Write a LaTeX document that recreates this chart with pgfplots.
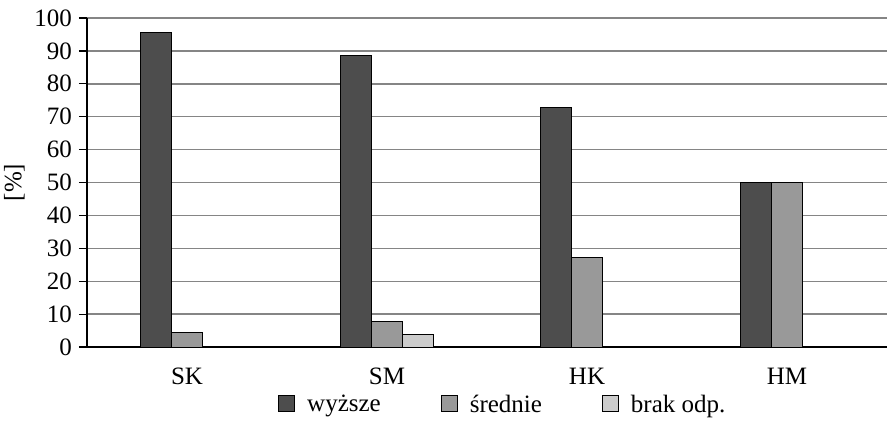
\documentclass[border=0pt]{standalone}
\usepackage{fontspec}
\setmainfont{Liberation Serif}
\usepackage{pgfplots}
\pgfplotsset{compat=1.18}
\usetikzlibrary{calc}
\definecolor{cdark}{HTML}{4D4D4D}
\definecolor{cmid}{HTML}{999999}
\definecolor{clight}{HTML}{CCCCCC}
\definecolor{cgrid}{HTML}{858585}
\begin{document}
\begin{tikzpicture}
\begin{axis}[
  scale only axis, width=400pt, height=164.5pt,
  xmin=-0.5, xmax=3.5, ymin=0, ymax=100,
  ybar=0pt, bar width=15.5pt,
  axis x line*=bottom, axis y line*=left,
  axis line style={black, line width=0.6pt, -},
  xtick={0,1,2,3}, xticklabels={SK,SM,HK,HM},
  x tick style={draw=none},
  extra x ticks={-0.5}, extra x tick labels={},
  extra x tick style={grid=none, tick style={draw=black, line width=0.6pt}, major tick length=4pt, tick align=outside},
  ytick={0,10,...,100},
  y tick style={black, line width=0.6pt},
  tick align=outside, major tick length=4pt,
  ymajorgrids, grid style={cgrid, line width=0.7pt},
  ticklabel style={font=\fontsize{12.5}{14}\selectfont},
  /pgf/number format/assume math mode=true,
  xticklabel style={yshift=-3pt},
  ylabel={[\%]}, ylabel style={font=\fontsize{12.5}{14}\selectfont, yshift=-2pt},
  legend style={draw=none, legend columns=3, at={(0.521,-0.176)}, anchor=center,
    font=\fontsize{12.5}{14}\selectfont,
    /tikz/every odd column/.append style={column sep=4pt},
    /tikz/every even column/.append style={column sep=28pt}},
  legend image code/.code={\draw[#1,draw=black,line width=0.5pt] (0pt,-3.5pt) rectangle (8pt,4.5pt);},
  every axis plot/.append style={draw=black, line width=0.5pt},
]
\addplot[fill=cdark] coordinates {(0,95.5) (1,88.5) (2,72.7) (3,50)};
\addplot[fill=cmid] coordinates {(0,4.5) (1,7.7) (2,27.3) (3,50)};
\addplot[fill=clight] coordinates {(1,3.8)};
\legend{wyższe, średnie, brak odp.}
\end{axis}
\pgfresetboundingbox
\path ($(current axis.south west)+(-43.5pt,-44pt)$) rectangle ($(current axis.north east)+(1pt,9pt)$);
\end{tikzpicture}
\end{document}
